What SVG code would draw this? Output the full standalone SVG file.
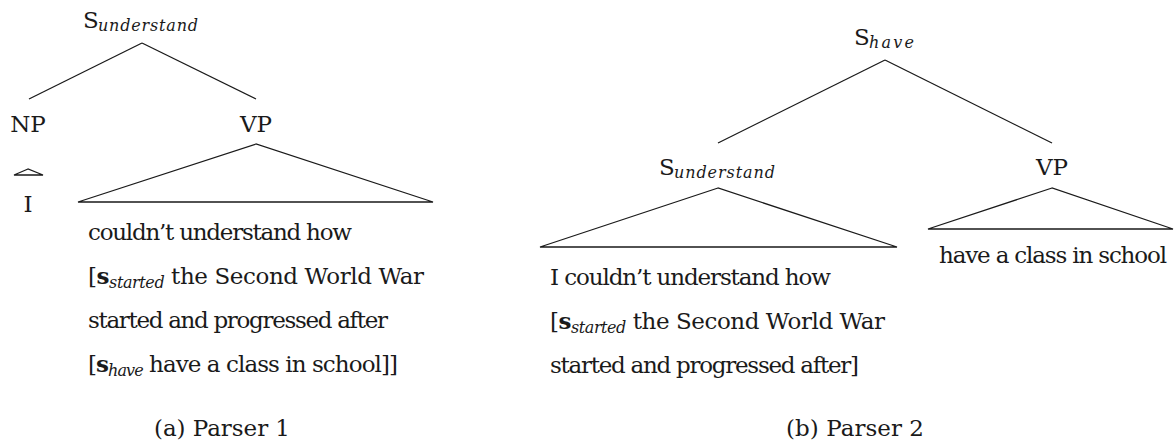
<svg xmlns="http://www.w3.org/2000/svg" width="1175" height="442" viewBox="0 0 1175 442">
<style>
text{font-family:"DejaVu Serif",serif;font-size:23px;fill:#1a1a1a}
.sub{font-style:italic;font-size:16px}
.b{font-weight:bold}
.e{stroke:#1a1a1a;stroke-width:1.3;fill:none}
</style>
<rect width="1175" height="442" fill="#fff"/>
<g id="connectors">
<line class="e" x1="142" y1="43" x2="29" y2="99"/>
<line class="e" x1="142" y1="43" x2="256" y2="99"/>
<line class="e" x1="885" y1="60" x2="718" y2="143"/>
<line class="e" x1="885" y1="60" x2="1052" y2="143"/>
<polygon class="e" points="28,169 14,175 43,175"/>
<polygon class="e" points="256,144 78,202 433,202"/>
<polygon class="e" points="718,188 540,247 897,247"/>
<polygon class="e" points="1052,188 928,229 1173,229"/>
</g>
<g id="a-s-understand">
<text x="83" y="28">S</text>
<text class="sub" x="98" y="31" textLength="100" lengthAdjust="spacing">understand</text>
</g>
<g id="a-np"><text x="28" y="132" text-anchor="middle">NP</text></g>
<g id="a-vp"><text x="256" y="132" text-anchor="middle">VP</text></g>
<g id="a-i"><text x="28" y="212" text-anchor="middle">I</text></g>
<g id="a-vp-text">
<text x="88" y="240" textLength="264" lengthAdjust="spacing">couldn’t understand how</text>
<text x="88" y="284" textLength="336" lengthAdjust="spacing">[<tspan class="b">s</tspan><tspan class="sub" dy="4">started</tspan><tspan dy="-4"> the Second World War</tspan></text>
<text x="88" y="328" textLength="300" lengthAdjust="spacing">started and progressed after</text>
<text x="88" y="372" textLength="310" lengthAdjust="spacing">[<tspan class="b">s</tspan><tspan class="sub" dy="4">have</tspan><tspan dy="-4"> have a class in school]]</tspan></text>
</g>
<g id="a-caption"><text x="154" y="436" textLength="136" lengthAdjust="spacing">(a) Parser 1</text></g>
<g id="b-s-have">
<text x="854" y="45">S</text>
<text class="sub" x="869" y="48" textLength="45" lengthAdjust="spacing">have</text>
</g>
<g id="b-s-understand">
<text x="659" y="175">S</text>
<text class="sub" x="674" y="178" textLength="101" lengthAdjust="spacing">understand</text>
</g>
<g id="b-vp"><text x="1052" y="175" text-anchor="middle">VP</text></g>
<g id="b-s-understand-text">
<text x="550" y="285" textLength="281" lengthAdjust="spacing">I couldn’t understand how</text>
<text x="550" y="329" textLength="335" lengthAdjust="spacing">[<tspan class="b">s</tspan><tspan class="sub" dy="4">started</tspan><tspan dy="-4"> the Second World War</tspan></text>
<text x="550" y="373" textLength="309" lengthAdjust="spacing">started and progressed after]</text>
</g>
<g id="b-vp-text"><text x="939" y="263" textLength="228" lengthAdjust="spacing">have a class in school</text></g>
<g id="b-caption"><text x="786" y="436" textLength="138" lengthAdjust="spacing">(b) Parser 2</text></g>
</svg>
